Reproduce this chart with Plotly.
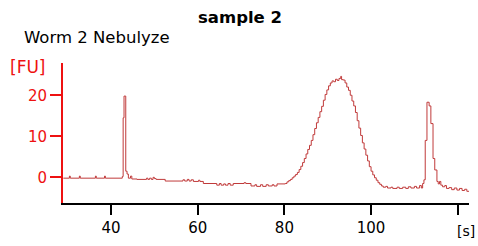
import plotly.graph_objects as go

# Electropherogram (step trace): time [s] and fluorescence [FU]
time_s = [
    29.0, 30.4, 30.6, 32.7, 32.9, 36.4, 36.6, 38.5, 38.7, 42.6,
    42.8, 43.0, 43.4, 43.7, 44.0, 44.5, 44.8, 46.0,
    48.2, 48.5, 48.9, 49.3, 49.7, 50.0, 50.4, 52.5,
    56.6, 57.0, 57.6, 58.0, 58.5, 59.0, 60.2, 60.5, 61.3,
    64.4, 65.0, 65.4, 66.0, 66.4, 67.0, 67.5, 68.2, 70.7, 71.1,
    72.3, 73.2, 73.6, 74.5, 75.0, 75.8, 76.3, 77.2, 77.6, 78.3,
    80.2, 80.6, 81.0, 81.4, 81.8, 82.2, 82.6, 83.0, 83.4, 83.8,
    84.2, 84.6, 85.0, 85.4, 85.8, 86.2, 86.6, 87.0, 87.4, 87.8,
    88.2, 88.6, 89.0, 89.4, 89.8, 90.2, 90.6, 91.0, 91.4, 91.8,
    92.2, 92.6, 93.0, 93.2, 93.6, 94.0, 94.4, 94.8, 95.2, 95.6,
    96.0, 96.4, 96.8, 97.2, 97.6, 98.0, 98.4, 98.8, 99.2, 99.6,
    100.0, 100.4, 100.8, 101.2, 101.6, 102.0, 102.4, 102.8,
    103.4, 103.8, 104.6, 105.0, 106.0, 106.5, 107.3, 108.0, 108.6, 109.2,
    110.0, 110.5, 111.2, 111.6, 111.9, 112.2, 112.5, 112.9, 113.4, 113.8,
    114.3, 114.7, 115.2, 115.5, 115.8, 116.1, 116.5, 117.0, 117.4, 118.0,
    118.6, 119.2, 119.8, 120.4, 121.0, 121.6, 122.1, 122.6,
]
fluorescence_fu = [
    -0.2, 0.3, -0.2, 0.3, -0.2, 0.3, -0.2, 0.3, -0.2, 0.2,
    14.5, 19.8, 1.5, 0.8, -0.2, 0.3, -0.4, -0.5,
    -0.2, -0.5, -0.2, -0.5, 0.0, -0.3, -0.5, -0.9,
    -0.6, -0.9, -0.5, -0.9, -0.6, -1.0, -0.7, -1.0, -1.5,
    -1.9, -1.5, -1.9, -1.6, -1.9, -1.5, -1.9, -1.5, -1.3, -1.5,
    -2.1, -1.8, -2.2, -1.8, -2.2, -1.8, -2.1, -1.8, -2.1, -1.6,
    -1.5, -1.1, -0.8, -0.5, -0.1, 0.3, 0.7, 1.2, 1.9, 2.7,
    3.6, 4.6, 5.7, 6.8, 7.8, 9.0, 10.4, 11.9, 13.3, 14.6,
    16.0, 17.3, 18.8, 20.2, 21.3, 22.3, 23.0, 23.5, 23.3, 23.9,
    23.6, 24.1, 24.6, 23.8, 23.7, 23.0, 22.0, 21.2, 20.0, 18.6,
    17.4, 15.8, 13.8, 12.0, 10.2, 8.4, 6.9, 5.4, 4.0, 2.6,
    1.5, 0.6, -0.1, -0.7, -1.3, -1.7, -2.1, -2.4,
    -2.2, -2.6, -2.4, -2.7, -2.4, -2.7, -2.4, -2.7, -2.3, -2.6,
    -2.2, -2.6, -2.0, -2.6, -1.5, -0.6, 9.0, 18.3, 17.4, 13.1,
    4.6, 1.8, -1.0, -1.6, -1.0, -1.9, -2.3, -2.0, -2.7, -2.5,
    -3.0, -2.6, -3.1, -2.7, -3.2, -2.9, -3.4, -3.4,
]

x_tickvals = [40, 60, 80, 100, 120]
x_ticktext = ["40", "60", "80", "100", ""]
y_tickvals = [0, 10, 20]

FONT = "DejaVu Sans"
RED = "#ee1111"

W, H = 478, 246
fig = go.Figure()
fig.add_trace(go.Scatter(
    x=time_s, y=fluorescence_fu, mode="lines",
    line=dict(shape="hv", color="#c03a3a", width=1),
    showlegend=False, hoverinfo="skip",
))

fig.update_layout(
    width=W, height=H,
    margin=dict(l=63, r=9, t=63, b=43, autoexpand=False),
    plot_bgcolor="white", paper_bgcolor="white",
    font=dict(family=FONT, size=15, color="black"),
    title=dict(text="<b>sample 2</b>", x=240 / W, xanchor="center",
               y=1 - 17 / H, yanchor="middle",
               font=dict(family=FONT, size=16.5, color="black")),
    xaxis=dict(range=[28.92, 122.6], tickvals=x_tickvals, ticktext=x_ticktext,
               automargin=False,
               showline=True, linecolor="black", linewidth=2,
               ticks="outside", ticklen=10, tickwidth=2, tickcolor="black",
               showgrid=False, zeroline=False,
               tickfont=dict(family=FONT, size=15, color="black")),
    yaxis=dict(range=[-6.25, 27.86], tickvals=y_tickvals,
               automargin=False,
               showline=True, linecolor=RED, linewidth=2,
               ticks="outside", ticklen=11, tickwidth=2, tickcolor=RED,
               showgrid=False, zeroline=False,
               tickfont=dict(family=FONT, size=15, color=RED)),
    annotations=[
        dict(text="Worm 2 Nebulyze", xref="paper", yref="paper",
             x=(21.7 - 63) / 406, y=(203 - 37) / 140,
             xanchor="left", yanchor="middle", showarrow=False,
             font=dict(family=FONT, size=16.5, color="black")),
        dict(text="[FU]", xref="paper", yref="paper",
             x=(28 - 63) / 406, y=(203 - 67) / 140,
             xanchor="center", yanchor="middle", showarrow=False,
             font=dict(family=FONT, size=17, color=RED)),
        dict(text="[s]", xref="paper", yref="paper",
             x=(476 - 63) / 406, y=(203 - 230.5) / 140,
             xanchor="right", yanchor="middle", showarrow=False,
             borderpad=0,
             font=dict(family=FONT, size=14, color="black")),
    ],
)

fig.write_html(
    "out.html",
    config={"displayModeBar": False},
    post_script="document.body.style.margin='0';document.body.style.overflow='hidden';",
)
